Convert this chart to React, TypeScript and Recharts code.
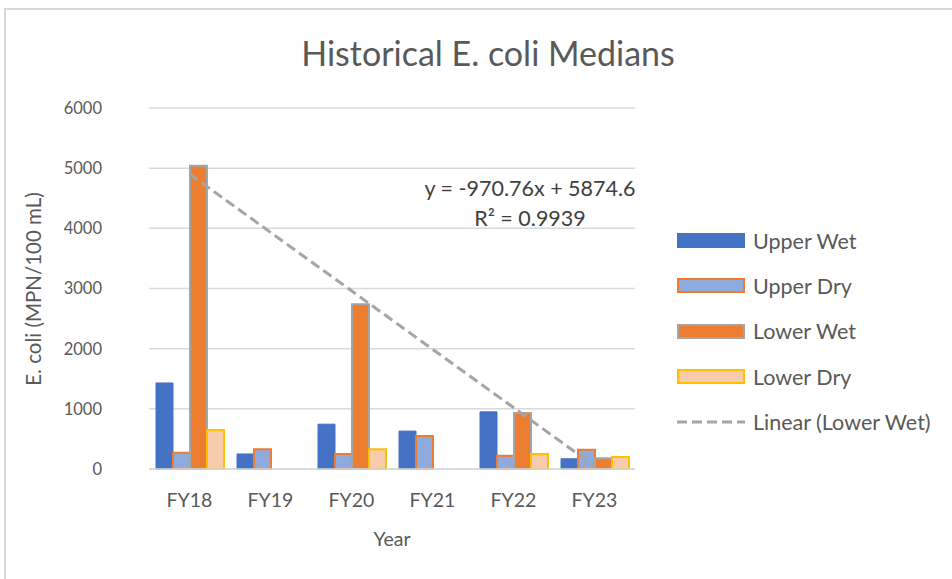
import React from 'react';
import { ComposedChart, Bar, Line, XAxis, YAxis, CartesianGrid } from 'recharts';

// fiscal years on the x axis
const years = ['FY18', 'FY19', 'FY20', 'FY21', 'FY22', 'FY23'];

// medians in MPN/100 mL (null = no bar)
const upperWet = [1430, 250, 745, 630, 950, 170];
const upperDry = [270, 330, 250, 550, 220, 320];
const lowerWet: (number | null)[] = [5040, null, 2740, null, 930, 180];
const lowerDry: (number | null)[] = [650, null, 330, null, 250, 200];

// Excel linear trendline of Lower Wet, y = -970.76x + 5874.6
const trendLowerWet = [4904, 3933, 2962, 1991, 1021, 50];

const yTicks = [0, 1000, 2000, 3000, 4000, 5000, 6000];

const chartData = years.map((year, i) => ({
  year,
  upperWet: upperWet[i],
  upperDry: upperDry[i],
  lowerWet: lowerWet[i],
  lowerDry: lowerDry[i],
  trend: trendLowerWet[i]
}));

const FONT = 'Lato, "Open Sans", sans-serif';
const TEXT = '#595959';

const legendItems = [
  { label: 'Upper Wet', fill: '#4472C4', stroke: '#4472C4' },
  { label: 'Upper Dry', fill: '#8FAADC', stroke: '#ED7D31' },
  { label: 'Lower Wet', fill: '#ED7D31', stroke: '#A5A5A5' },
  { label: 'Lower Dry', fill: '#F8CBAD', stroke: '#FFC000' }
];

const ChartLegend = () => (
  <div style={{ position: 'absolute', left: 677, top: 218, fontFamily: FONT, fontSize: 21.5, color: TEXT, whiteSpace: 'nowrap' }}>
    {legendItems.map(item => (
      <div key={item.label} style={{ display: 'flex', alignItems: 'center', height: 45.3 }}>
        <div
          style={{
            width: 64,
            height: 11,
            background: item.fill,
            border: `2px solid ${item.stroke}`,
            marginRight: 8
          }}
        />
        <span>{item.label}</span>
      </div>
    ))}
    <div style={{ display: 'flex', alignItems: 'center', height: 45.3 }}>
      <svg width={68} height={6} style={{ marginRight: 8 }}>
        <line x1={0} y1={3} x2={68} y2={3} stroke="#A5A5A5" strokeWidth={3} strokeDasharray="10 5" />
      </svg>
      <span>Linear (Lower Wet)</span>
    </div>
  </div>
);

export default function App() {
  return (
    <div style={{ position: 'absolute', left: 0, top: 0, width: 952, height: 579, background: '#fff', overflow: 'hidden' }}>
      {/* chart frame, only top and left edges are visible in the crop */}
      <div style={{ position: 'absolute', left: 4, top: 8, right: 0, bottom: 0, borderTop: '2px solid #D9D9D9', borderLeft: '2px solid #D9D9D9' }} />

      <div style={{ position: 'absolute', left: 0, top: 33, width: 976, textAlign: 'center', fontFamily: FONT, fontSize: 34, color: TEXT, lineHeight: '40px' }}>
        Historical E. coli Medians
      </div>

      <ComposedChart
        width={952}
        height={579}
        data={chartData}
        margin={{ top: 108, right: 317, bottom: 30, left: 0 }}
        barCategoryGap={7}
        barGap={0}
        style={{ position: 'absolute', left: 0, top: 0 }}
      >
        <CartesianGrid vertical={false} stroke="#D9D9D9" strokeWidth={1.5} />
        <XAxis
          dataKey="year"
          height={80}
          tickSize={0}
          tickMargin={24}
          axisLine={{ stroke: '#D9D9D9', strokeWidth: 1.5 }}
          tick={{ fill: TEXT, fontSize: 19.5, fontFamily: FONT }}
        />
        <YAxis
          width={149}
          domain={[0, 6000]}
          ticks={yTicks}
          tickSize={0}
          tickMargin={47}
          axisLine={false}
          tick={{ fill: TEXT, fontSize: 16.5, fontFamily: FONT }}
        />
        <Bar dataKey="upperWet" name="Upper Wet" fill="#4472C4" stroke="#4472C4" strokeWidth={1} isAnimationActive={false} />
        <Bar dataKey="upperDry" name="Upper Dry" fill="#8FAADC" stroke="#ED7D31" strokeWidth={2} isAnimationActive={false} />
        <Bar dataKey="lowerWet" name="Lower Wet" fill="#ED7D31" stroke="#A5A5A5" strokeWidth={2} isAnimationActive={false} />
        <Bar dataKey="lowerDry" name="Lower Dry" fill="#F8CBAD" stroke="#FFC000" strokeWidth={2} isAnimationActive={false} />
        <Line
          dataKey="trend"
          name="Linear (Lower Wet)"
          stroke="#A5A5A5"
          strokeWidth={3}
          strokeDasharray="10 5"
          dot={false}
          activeDot={false}
          isAnimationActive={false}
        />
      </ComposedChart>

      {/* trendline equation */}
      <div style={{ position: 'absolute', left: 390, top: 173, width: 280, textAlign: 'center', fontFamily: FONT, fontSize: 21.5, color: '#404040', lineHeight: '30px' }}>
        <div>y = -970.76x + 5874.6</div>
        <div>R² = 0.9939</div>
      </div>

      <div
        style={{
          position: 'absolute',
          left: 33,
          top: 289,
          transform: 'translate(-50%, -50%) rotate(-90deg)',
          whiteSpace: 'nowrap',
          fontFamily: FONT,
          fontSize: 20.5,
          color: TEXT
        }}
      >
        E. coli (MPN/100 mL)
      </div>

      <div style={{ position: 'absolute', left: 342, top: 527, width: 100, textAlign: 'center', fontFamily: FONT, fontSize: 19.5, color: TEXT }}>
        Year
      </div>

      <ChartLegend />
    </div>
  );
}
